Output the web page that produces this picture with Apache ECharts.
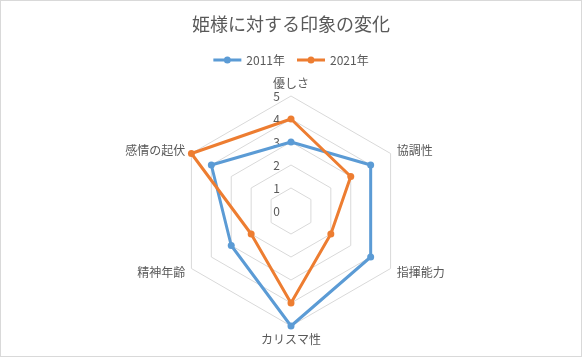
<!DOCTYPE html>
<html>
<head>
<meta charset="utf-8">
<script src="https://cdn.jsdelivr.net/npm/echarts@6/dist/echarts.min.js"></script>
<style>
  html, body { margin: 0; padding: 0; background: #fff; }
  #chart { width: 582px; height: 357px; box-sizing: border-box; border: 1px solid #d9d9d9; }
</style>
</head>
<body>
<div id="chart"></div>
<script>
// 項目と値（時計回り）
var indicators = ['優しさ', '協調性', '指揮能力', 'カリスマ性', '精神年齢', '感情の起伏'];
var values2011 = [3, 4, 4, 5, 3, 4];
var values2021 = [4, 3, 2, 4, 2, 5];
var seriesNames = ['2011年', '2021年'];
var colors = ['#5b9bd5', '#ed7d31'];

// ECharts のレーダーは反時計回りなので並びを反転（先頭は固定）
var order = [0];
for (var k = indicators.length - 1; k > 0; k--) order.push(k);
function reorder(arr) {
    return order.map(function (i) { return arr[i]; });
}

var font = '"Noto Sans CJK JP", "Noto Sans", sans-serif';
// 凡例のアイコン（線＋丸）
var legendIcon = 'path://M0,2.6L28,2.6L28,5.4L0,5.4Z M10.5,4A3.5,3.5 0 1,1 17.5,4A3.5,3.5 0 1,1 10.5,4Z';

var myChart = echarts.init(document.getElementById('chart'));
myChart.setOption({
    animation: false,
    title: {
        text: '姫様に対する印象の変化',
        left: 'center',
        top: 9,
        textStyle: {
            color: '#595959',
            fontSize: 18,
            fontWeight: 'normal',
            fontFamily: font
        }
    },
    legend: {
        top: 48,
        left: 'center',
        itemWidth: 28,
        itemHeight: 8,
        itemGap: 12,
        textStyle: { color: '#595959', fontSize: 12, fontFamily: font },
        data: [
            { name: seriesNames[0], icon: legendIcon },
            { name: seriesNames[1], icon: legendIcon }
        ]
    },
    radar: {
        center: [290, 210],
        radius: 115,
        startAngle: 90,
        shape: 'polygon',
        splitNumber: 5,
        nameGap: 7,
        axisName: { color: '#595959', fontSize: 12, fontFamily: font },
        axisLine: { show: false },
        axisTick: { show: false },
        axisLabel: { show: false },
        splitArea: { show: false },
        splitLine: { lineStyle: { color: '#d9d9d9', width: 1 } },
        indicator: reorder(indicators).map(function (name, i) {
            var item = { name: name, min: 0, max: 5 };
            if (i === 0) {
                item.axisLabel = {
                    show: true,
                    color: '#595959',
                    fontSize: 12,
                    fontFamily: font,
                    margin: 11
                };
            }
            return item;
        })
    },
    series: [{
        type: 'radar',
        symbol: 'circle',
        symbolSize: 7,
        data: [
            {
                name: seriesNames[0],
                value: reorder(values2011),
                itemStyle: { color: colors[0] },
                lineStyle: { color: colors[0], width: 3 }
            },
            {
                name: seriesNames[1],
                value: reorder(values2021),
                itemStyle: { color: colors[1] },
                lineStyle: { color: colors[1], width: 3 }
            }
        ]
    }]
});
</script>
</body>
</html>
